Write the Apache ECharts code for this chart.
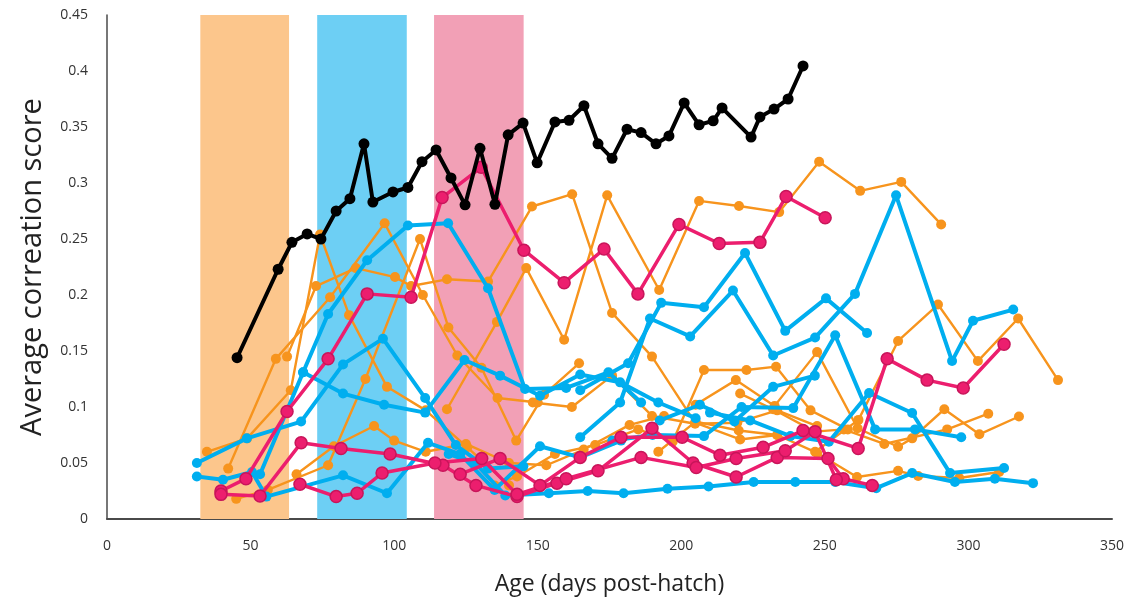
<!DOCTYPE html>
<html>
<head>
<meta charset="utf-8">
<script src="https://cdn.jsdelivr.net/npm/echarts@6/dist/echarts.min.js"></script>
<style>
  html, body { margin: 0; padding: 0; background: #fff; }
  #chart { width: 1137px; height: 607px; }
</style>
</head>
<body>
<div id="chart"></div>
<script>
// Age (days post-hatch) vs. average correlation score, one line per bird.

// Developmental windows shaded behind the lines: [start, end] in days.
const bandOrange = [32.5, 63.4];
const bandBlue = [73.2, 104.4];
const bandPink = [113.9, 145.1];

// Reference bird (black)
const tutor = [
  [45.3, 0.144], [59.6, 0.223], [64.4, 0.247], [69.7, 0.2545], [74.5, 0.25],
  [79.8, 0.275], [84.6, 0.286], [89.5, 0.335], [92.6, 0.283], [99.6, 0.292],
  [104.8, 0.296], [109.7, 0.319], [114.6, 0.3295], [119.8, 0.3045], [124.7, 0.2805],
  [129.9, 0.331], [135.1, 0.281], [139.7, 0.343], [144.9, 0.3535], [149.8, 0.318],
  [156.0, 0.3545], [160.9, 0.356], [166.1, 0.369], [171.0, 0.335], [175.9, 0.322],
  [181.1, 0.348], [186.0, 0.345], [191.2, 0.335], [195.7, 0.342], [201.0, 0.3715],
  [206.2, 0.352], [211.1, 0.3555], [214.2, 0.367], [224.3, 0.341], [227.4, 0.359],
  [232.3, 0.366], [237.2, 0.375], [242.4, 0.4045]
];

// Pink group
const pinkA = [
  [39.7, 0.025], [48.4, 0.036], [62.7, 0.096], [77.0, 0.143], [90.6, 0.201],
  [105.9, 0.198], [116.7, 0.287], [130.3, 0.314], [145.2, 0.240], [159.2, 0.211],
  [173.1, 0.241], [184.9, 0.201], [199.2, 0.263], [213.2, 0.246], [227.4, 0.247],
  [236.5, 0.288], [250.1, 0.269]
];
const pinkB = [
  [123.0, 0.040], [136.9, 0.054], [150.8, 0.030], [164.8, 0.055], [179.0, 0.073],
  [200.3, 0.073], [213.5, 0.057], [228.5, 0.064], [242.4, 0.079], [261.6, 0.063],
  [271.7, 0.143], [285.6, 0.124], [298.2, 0.117], [312.4, 0.156]
];
const pinkC = [
  [39.7, 0.022], [53.3, 0.0205], [67.6, 0.068], [81.5, 0.063], [98.6, 0.058],
  [117.0, 0.048], [128.5, 0.030], [142.8, 0.020], [156.7, 0.032], [171.0, 0.043],
  [189.8, 0.081], [204.1, 0.050], [219.1, 0.0375], [233.4, 0.055], [251.1, 0.054],
  [256.4, 0.036], [266.5, 0.030]
];
const pinkD = [
  [67.2, 0.031], [79.8, 0.020], [87.1, 0.023], [95.8, 0.041], [114.2, 0.050],
  [130.5, 0.054], [142.8, 0.022], [159.9, 0.036], [186.0, 0.055], [205.2, 0.046],
  [219.1, 0.054], [236.2, 0.061], [246.6, 0.078], [254.0, 0.035]
];

// Blue group
const blueA = [
  [164.8, 0.073], [178.7, 0.104], [189.1, 0.179], [203.1, 0.163], [218.0, 0.204],
  [232.0, 0.146], [246.6, 0.162], [260.5, 0.201], [274.8, 0.289], [294.3, 0.141],
  [301.6, 0.177], [315.6, 0.187]
];
const blueB = [
  [164.8, 0.115], [181.5, 0.139], [193.0, 0.193], [207.9, 0.189], [222.2, 0.2375],
  [236.2, 0.168], [250.4, 0.197], [264.7, 0.166]
];
const blueC = [
  [53.3, 0.040], [68.3, 0.131], [77.0, 0.183], [90.6, 0.231], [104.8, 0.262],
  [118.8, 0.264], [132.7, 0.206], [145.6, 0.116], [159.9, 0.117], [174.6, 0.131],
  [186.0, 0.104]
];
const blueD = [
  [31.3, 0.050], [48.7, 0.072], [67.6, 0.087], [82.2, 0.138], [96.1, 0.161],
  [110.8, 0.108], [121.5, 0.066], [132.7, 0.045], [145.0, 0.047]
];
const blueE = [
  [68.3, 0.131], [82.2, 0.112], [96.5, 0.102], [110.8, 0.095], [124.5, 0.142],
  [136.9, 0.128], [150.8, 0.110], [164.8, 0.129], [178.7, 0.122], [192.0, 0.104],
  [205.0, 0.090]
];
const blueF = [
  [119.0, 0.058], [128.2, 0.050], [138.7, 0.021], [153.9, 0.023], [167.4, 0.025],
  [179.9, 0.023], [195.2, 0.027], [209.5, 0.029], [225.2, 0.033], [239.7, 0.033],
  [253.6, 0.033], [267.9, 0.0275], [280.4, 0.041], [295.3, 0.033], [309.2, 0.036],
  [322.5, 0.032]
];
const blueG = [
  [192.5, 0.088], [206.5, 0.102], [218.5, 0.087], [232.0, 0.118], [246.5, 0.128]
];
const blueH = [
  [176.0, 0.070], [190.0, 0.075], [207.9, 0.074], [221.0, 0.100], [239.0, 0.099],
  [253.6, 0.164], [267.5, 0.080], [281.4, 0.080], [297.5, 0.073]
];
const blueI = [
  [210.0, 0.095], [224.0, 0.088], [238.0, 0.074], [251.4, 0.069], [265.4, 0.1125],
  [280.4, 0.0946], [293.6, 0.041], [312.4, 0.0455]
];
const blueJ = [
  [31.3, 0.038], [40.4, 0.035], [50.5, 0.042], [55.5, 0.020], [82.2, 0.039],
  [97.5, 0.023], [111.8, 0.068], [123.0, 0.058], [135.0, 0.026], [150.8, 0.065],
  [164.8, 0.055], [179.0, 0.070]
];

// Orange group
const orangeA = [
  [118.4, 0.098], [135.8, 0.176], [146.0, 0.224], [159.2, 0.160], [174.2, 0.289],
  [192.3, 0.2045], [206.2, 0.284], [220.1, 0.2795], [234.1, 0.274], [248.0, 0.319],
  [262.3, 0.293], [276.6, 0.301], [290.5, 0.263]
];
const orangeB = [
  [62.7, 0.145], [72.8, 0.208], [86.7, 0.224], [100.3, 0.216], [105.9, 0.208],
  [118.4, 0.214], [132.7, 0.212], [148.0, 0.279], [162.0, 0.290], [175.9, 0.184],
  [189.8, 0.145], [204.8, 0.086], [220.5, 0.071], [233.4, 0.075]
];
const orangeC = [
  [34.8, 0.060], [48.8, 0.072], [64.0, 0.115], [74.2, 0.254], [84.3, 0.182],
  [97.5, 0.118], [111.0, 0.097], [125.5, 0.064], [140.0, 0.030]
];
const orangeD = [
  [42.2, 0.045], [58.8, 0.143], [77.7, 0.198], [96.7, 0.264], [110.0, 0.200],
  [122.0, 0.146], [136.0, 0.108], [150.0, 0.104]
];
const orangeE = [
  [45.0, 0.018], [56.0, 0.026], [77.0, 0.048], [90.0, 0.125], [109.0, 0.250],
  [118.9, 0.171], [130.4, 0.135], [142.5, 0.070], [152.2, 0.111], [164.4, 0.139]
];
const orangeF = [
  [246.6, 0.060], [261.7, 0.0885], [275.5, 0.159], [289.4, 0.1915], [303.3, 0.141],
  [317.3, 0.179], [331.2, 0.124]
];
const orangeG = [
  [205.0, 0.102], [219.0, 0.124], [232.5, 0.101], [247.3, 0.149], [261.4, 0.081],
  [275.5, 0.0645], [280.4, 0.072], [291.6, 0.098], [303.8, 0.0756], [317.6, 0.0915]
];
const orangeH = [
  [192.0, 0.060], [205.0, 0.087], [220.0, 0.079], [233.4, 0.075], [247.3, 0.059],
  [261.2, 0.0375], [275.5, 0.043], [282.5, 0.0384], [296.8, 0.0366], [310.7, 0.042]
];
const orangeI = [
  [220.5, 0.112], [232.0, 0.098], [246.5, 0.078], [256.6, 0.080], [270.7, 0.067],
  [292.6, 0.080], [306.9, 0.094]
];
const orangeJ = [
  [148.3, 0.104], [161.9, 0.100], [175.9, 0.128], [189.8, 0.092], [204.8, 0.085],
  [219.5, 0.086], [233.4, 0.097], [247.3, 0.083]
];
const orangeK = [
  [135.0, 0.030], [142.8, 0.038], [156.0, 0.058], [170.0, 0.066], [185.0, 0.080],
  [197.0, 0.069], [207.9, 0.133], [222.7, 0.133], [233.0, 0.136], [245.0, 0.097],
  [258.0, 0.080]
];
const orangeL = [
  [66.0, 0.040], [79.0, 0.065], [93.0, 0.083], [100.0, 0.070], [111.0, 0.060],
  [125.0, 0.067], [140.0, 0.050], [153.0, 0.048], [166.0, 0.062], [182.0, 0.084],
  [194.0, 0.092]
];

const xTicks = { min: 0, max: 350, interval: 50 };
const yTicks = { min: 0, max: 0.45, interval: 0.05 };

const ORANGE = '#F7941D';
const BLUE = '#00AEEF';
const PINK = '#EC1E6E';
const BLACK = '#000000';

function lineSeries(data, color, opts) {
  return {
    type: 'line',
    data: data,
    z: opts.z,
    silent: true,
    animation: false,
    symbol: 'circle',
    symbolSize: opts.size,
    showAllSymbol: true,
    lineStyle: { color: color, width: opts.width },
    itemStyle: {
      color: color,
      borderColor: opts.border || color,
      borderWidth: opts.border ? 1.5 : 0
    }
  };
}

const series = [];

// shaded windows
series.push({
  type: 'line',
  data: [],
  z: 0,
  silent: true,
  markArea: {
    silent: true,
    data: [
      [{ xAxis: bandOrange[0], itemStyle: { color: '#FCC68C' } }, { xAxis: bandOrange[1] }],
      [{ xAxis: bandBlue[0], itemStyle: { color: '#6DCFF4' } }, { xAxis: bandBlue[1] }],
      [{ xAxis: bandPink[0], itemStyle: { color: '#F2A0B6' } }, { xAxis: bandPink[1] }]
    ]
  }
});

[orangeA, orangeB, orangeC, orangeD, orangeE, orangeF, orangeG, orangeH, orangeI, orangeJ, orangeK, orangeL]
  .forEach(d => series.push(lineSeries(d, ORANGE, { z: 2, size: 10, width: 2.4 })));
[blueA, blueB, blueC, blueD, blueE, blueF, blueG, blueH, blueI, blueJ]
  .forEach(d => series.push(lineSeries(d, BLUE, { z: 3, size: 10, width: 4 })));
[pinkA, pinkB, pinkC, pinkD]
  .forEach(d => series.push(lineSeries(d, PINK, { z: 4, size: 12, width: 3.5, border: '#C8155A' })));
series.push(lineSeries(tutor, BLACK, { z: 5, size: 11, width: 4 }));

const chart = echarts.init(document.getElementById('chart'), null, { renderer: 'canvas' });
chart.setOption({
  animation: false,
  backgroundColor: '#ffffff',
  grid: { left: 107, right: 25, top: 15, bottom: 88, containLabel: false },
  xAxis: {
    type: 'value',
    min: xTicks.min, max: xTicks.max, interval: xTicks.interval,
    name: 'Age (days post-hatch)',
    nameLocation: 'middle',
    nameGap: 54,
    nameTextStyle: { fontFamily: 'Open Sans', fontSize: 23, color: '#222' },
    axisLine: { show: true, lineStyle: { color: '#4a4a4a', width: 2 } },
    axisTick: { show: false },
    splitLine: { show: false },
    axisLabel: { fontFamily: 'Open Sans', fontSize: 14, color: '#333', margin: 20 }
  },
  yAxis: {
    type: 'value',
    min: yTicks.min, max: yTicks.max, interval: yTicks.interval,
    name: 'Average correation score',
    nameLocation: 'middle',
    nameGap: 60,
    nameRotate: 90,
    nameTextStyle: { fontFamily: 'Open Sans', fontSize: 29, color: '#222' },
    axisLine: { show: true, lineStyle: { color: '#4a4a4a', width: 1.5 } },
    axisTick: { show: false },
    splitLine: { show: false },
    axisLabel: {
      fontFamily: 'Open Sans', fontSize: 14, color: '#333', margin: 19,
      formatter: v => String(+v.toFixed(2))
    }
  },
  series: series
});
</script>
</body>
</html>
